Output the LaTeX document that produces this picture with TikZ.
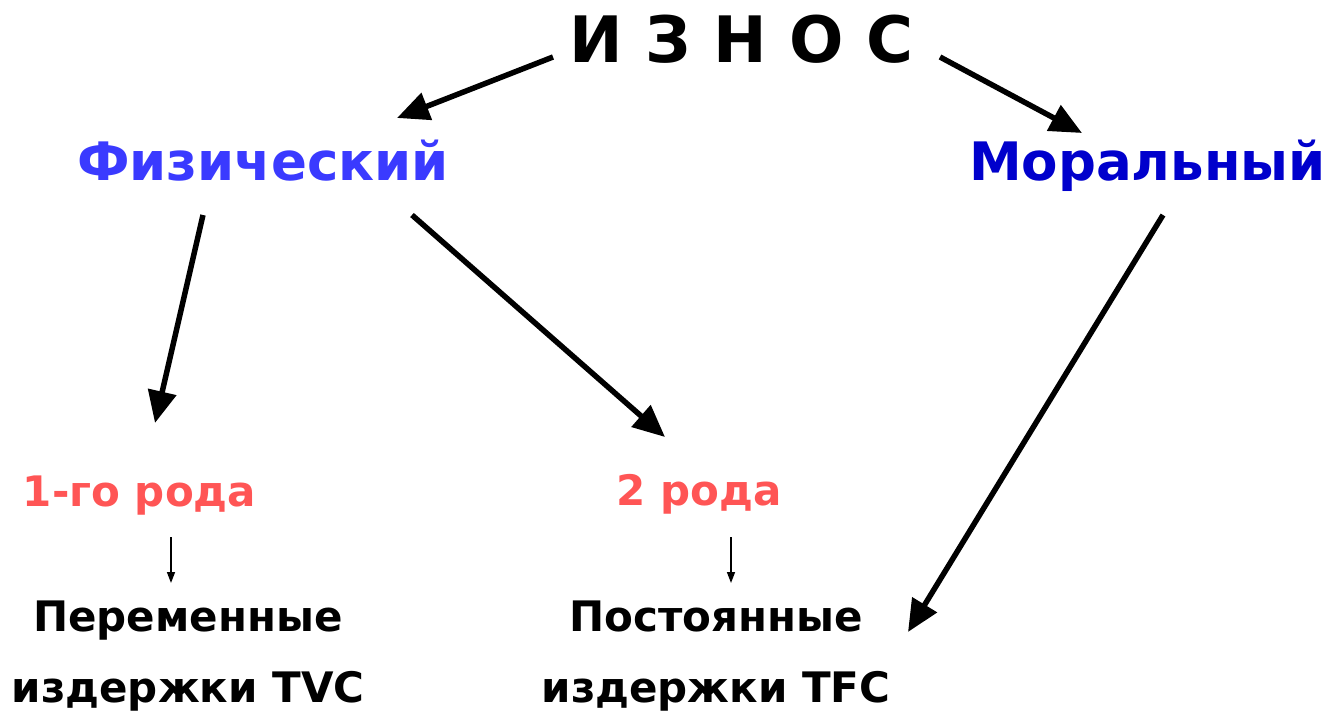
\documentclass[tikz,border=0pt]{standalone}
\usepackage{fontspec}
\setmainfont{DejaVu Sans}
\usetikzlibrary{arrows.meta}
\definecolor{fizblue}{RGB}{58,58,255}
\definecolor{morblue}{RGB}{0,0,204}
\definecolor{rodred}{RGB}{255,85,85}

\begin{document}
\begin{tikzpicture}[x=1pt,y=-1pt]
\tikzstyle{every node}+=[inner sep=0pt,anchor=base]
\tikzstyle{big arrow}=[black,line width=5.5pt,-{Triangle[length=32pt,width=28pt]}]
\tikzstyle{small arrow}=[black,line width=1.5pt,-{Triangle[length=11pt,width=8pt]}]
\useasboundingbox (0,0) rectangle (1330,712);
\node [font=\bfseries\fontsize{64}{64}\selectfont] (iznos) at (741.5,62) {И З Н О С};
\node [fizblue,font=\bfseries\fontsize{53}{53}\selectfont] (fiz) at (263,180) {Физический};
\node [morblue,font=\bfseries\fontsize{53}{53}\selectfont] (mor) at (1147.5,180) {Моральный};
\node [rodred,font=\bfseries\fontsize{42}{42}\selectfont] (rod1) at (139.5,506) {1-го рода};
\node [rodred,font=\bfseries\fontsize{42}{42}\selectfont] (rod2) at (699,505) {2 рода};
\node [align=center,font=\bfseries\fontsize{42}{71}\selectfont] (perem) at (188,702) {Переменные\\издержки TVC};
\node [align=center,font=\bfseries\fontsize{42}{71}\selectfont] (post) at (716,702) {Постоянные\\издержки TFC};
\draw [big arrow] ([xshift=-188.5pt,yshift=5pt]iznos.base) -- ([xshift=134pt,yshift=62pt]fiz.base);
\draw [big arrow] ([xshift=198.5pt,yshift=5pt]iznos.base) -- ([xshift=-65.5pt,yshift=47pt]mor.base);
\draw [big arrow] ([xshift=-60pt,yshift=-35pt]fiz.base) -- ([xshift=15.5pt,yshift=83pt]rod1.base);
\draw [big arrow] ([xshift=149pt,yshift=-35pt]fiz.base) -- ([xshift=-34pt,yshift=68pt]rod2.base);
\draw [big arrow] ([xshift=15.5pt,yshift=-35pt]mor.base) -- ([xshift=192pt,yshift=70pt]post.base);
\draw [small arrow] ([xshift=31.5pt,yshift=-31pt]rod1.base) -- ([xshift=-17pt,yshift=119pt]perem.base);
\draw [small arrow] ([xshift=32pt,yshift=-32pt]rod2.base) -- ([xshift=15pt,yshift=119pt]post.base);
\end{tikzpicture}
\end{document}
